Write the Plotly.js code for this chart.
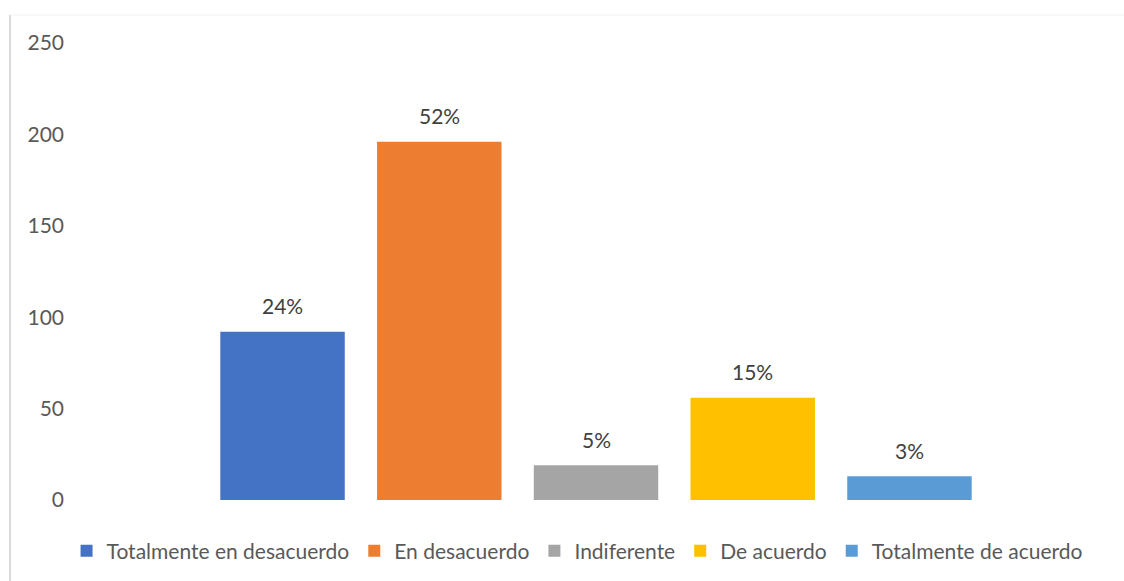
<!DOCTYPE html>
<html>
<head>
<meta charset="utf-8">
<script src="https://cdn.plot.ly/plotly-3.0.1.min.js"></script>
<style>html,body{margin:0;padding:0;background:#fff;}#chart{width:1124px;height:581px;}</style>
</head>
<body>
<div id="chart"></div>
<script>
const categories = ["Totalmente en desacuerdo", "En desacuerdo", "Indiferente", "De acuerdo", "Totalmente de acuerdo"];
const values = [92, 196, 19, 56, 13];
const pctLabels = ["24%", "52%", "5%", "15%", "3%"];
const colors = ["#4472C4", "#ED7D31", "#A5A5A5", "#FFC000", "#5B9BD5"];
const yTicks = [0, 50, 100, 150, 200, 250];

const FONT = "Lato, 'Open Sans', sans-serif";

const traces = categories.map((c, i) => ({
  type: "bar",
  name: c,
  x: [i],
  y: [values[i]],
  marker: {color: colors[i]},
  hoverinfo: "skip"
}));

const annotations = categories.map((c, i) => ({
  x: i, y: values[i], xref: "x", yref: "y",
  text: pctLabels[i], showarrow: false,
  yanchor: "middle", yshift: 26,
  font: {family: FONT, size: 21, color: "#404040"}
}));

const layout = {
  width: 1124, height: 581,
  margin: {l: 70, r: 2, t: 43, b: 81},
  paper_bgcolor: "#fff", plot_bgcolor: "#fff",
  barmode: "overlay",
  bargap: 0.206,
  font: {family: FONT, size: 21, color: "#595959"},
  xaxis: {range: [-1.356, 5.356], visible: false, fixedrange: true},
  yaxis: {
    range: [0, 250], tickvals: yTicks, ticktext: yTicks.map(String),
    showgrid: false, zeroline: false, showline: false, ticks: "",
    ticklabelstandoff: 5,
    tickfont: {family: FONT, size: 21, color: "#595959"}
  },
  showlegend: true,
  legend: {
    orientation: "h", x: 0.482, xanchor: "center", y: -0.1116, yanchor: "middle",
    font: {family: FONT, size: 21, color: "#595959"},
    itemwidth: 30, traceorder: "normal"
  },
  annotations: annotations,
  shapes: [
    {type: "line", xref: "paper", yref: "paper", x0: -0.057, x1: -0.057, y0: 1.061, y1: -0.2, line: {color: "#d9d9d9", width: 2}},
    {type: "line", xref: "paper", yref: "paper", x0: -0.057, x1: 1.01, y0: 1.061, y1: 1.061, line: {color: "#f2f2f2", width: 1}}
  ]
};

Plotly.newPlot("chart", traces, layout, {displayModeBar: false, staticPlot: true});
</script>
</body>
</html>
